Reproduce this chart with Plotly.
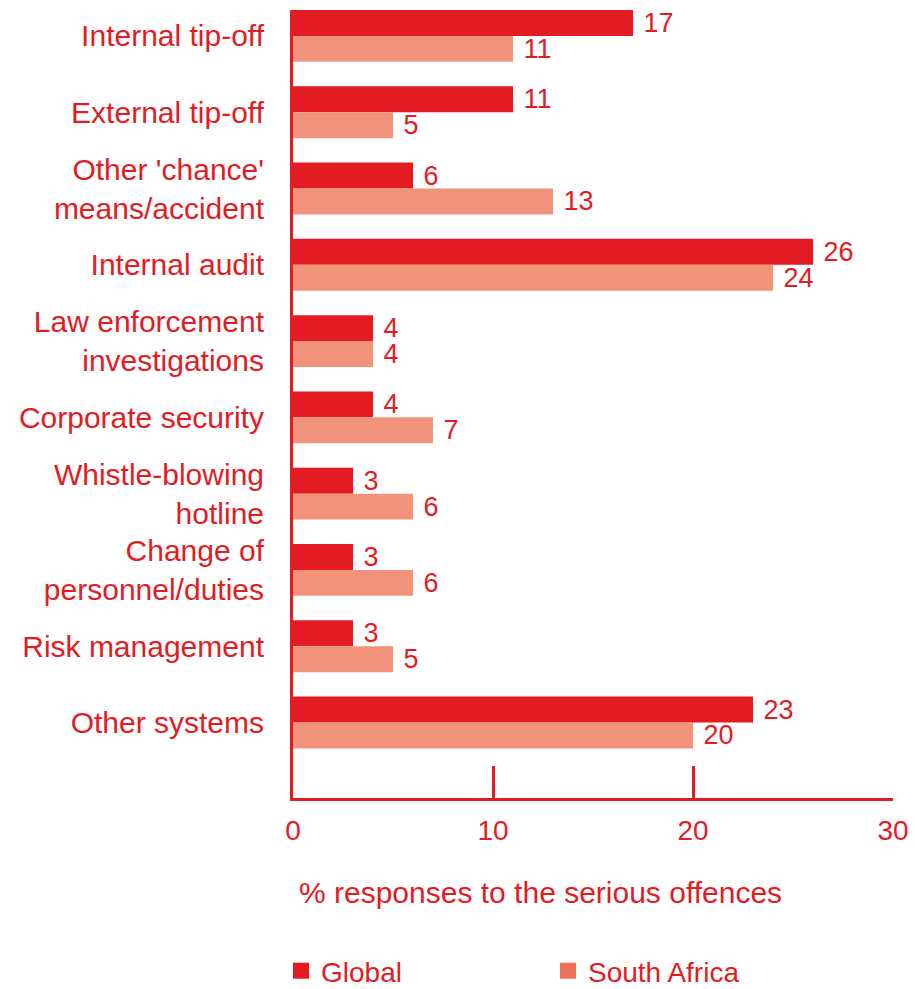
import plotly.graph_objects as go

categories = [
    "Internal tip-off",
    "External tip-off",
    "Other 'chance'<br>means/accident",
    "Internal audit",
    "Law enforcement<br>investigations",
    "Corporate security",
    "Whistle-blowing<br>hotline",
    "Change of<br>personnel/duties",
    "Risk management",
    "Other systems",
]
global_vals = [17, 11, 6, 26, 4, 4, 3, 3, 3, 23]
sa_vals = [11, 5, 13, 24, 4, 7, 6, 6, 5, 20]
x_ticks = [0, 10, 20, 30]

RED = "#e31b23"
SALMON = "#f0937a"
SALMON_LEG = "#ee7158"
FONT = "Liberation Sans, Arial, sans-serif"
FS = 30
NUM_FS = 27

fig = go.Figure()
fig.add_trace(go.Bar(
    y=categories, x=global_vals, orientation="h", name="Global",
    marker=dict(color=RED, line=dict(width=0)),
    texttemplate=" %{x}", textposition="outside", constraintext="none",
    textfont=dict(color=RED, size=NUM_FS, family=FONT), cliponaxis=False,
    showlegend=False,
))
fig.add_trace(go.Bar(
    y=categories, x=sa_vals, orientation="h", name="South Africa",
    marker=dict(color=SALMON, line=dict(width=0)),
    texttemplate=" %{x}", textposition="outside", constraintext="none",
    textfont=dict(color=RED, size=NUM_FS, family=FONT), cliponaxis=False,
    showlegend=False,
))
# legend entries (square swatches)
fig.add_trace(go.Scatter(
    x=[None], y=[None], mode="markers", name="Global",
    marker=dict(symbol="square", size=17, color=RED), showlegend=True,
))
fig.add_trace(go.Scatter(
    x=[None], y=[None], mode="markers", name="South Africa",
    marker=dict(symbol="square", size=17, color=SALMON_LEG), showlegend=True,
))

W, H = 915, 989
ml, mr, mt, mb = 293, 22, 10, 191

fig.update_layout(
    width=W, height=H,
    margin=dict(l=ml, r=mr, t=mt, b=mb, autoexpand=False),
    paper_bgcolor="white", plot_bgcolor="white",
    barmode="group", bargap=0.32, bargroupgap=0,
    font=dict(family=FONT, size=FS, color=RED),
    showlegend=True,
    legend=dict(
        orientation="h", x=281 / W, xanchor="left", xref="container",
        y=1 - 971 / H, yanchor="middle", yref="container",
        font=dict(size=28, color=RED, family=FONT),
        entrywidth=222, entrywidthmode="pixels",
        itemsizing="trace",
    ),
    xaxis=dict(
        range=[0, 30], tickvals=x_ticks, ticktext=[str(t) for t in x_ticks],
        showgrid=False, zeroline=False,
        showline=True, linecolor=RED, linewidth=3,
        ticks="inside", ticklen=32, tickwidth=3, tickcolor=RED,
        tickfont=dict(size=28, color=RED, family=FONT),
        ticklabelstandoff=5,
    ),
    yaxis=dict(
        type="category", range=[9.99, -0.34],
        showgrid=False, zeroline=False,
        showline=True, linecolor=RED, linewidth=3,
        ticks="", ticklabelstandoff=20,
        tickfont=dict(size=FS, color=RED, family=FONT),
    ),
    annotations=[dict(
        text="% responses to the serious offences",
        xref="paper", yref="paper", x=(297 - ml) / (W - ml - mr), xanchor="left",
        y=-(893 - 798) / (798 - mt), yanchor="middle",
        showarrow=False, font=dict(size=FS, color=RED, family=FONT),
    )],
)

fig.write_html("out.html")
